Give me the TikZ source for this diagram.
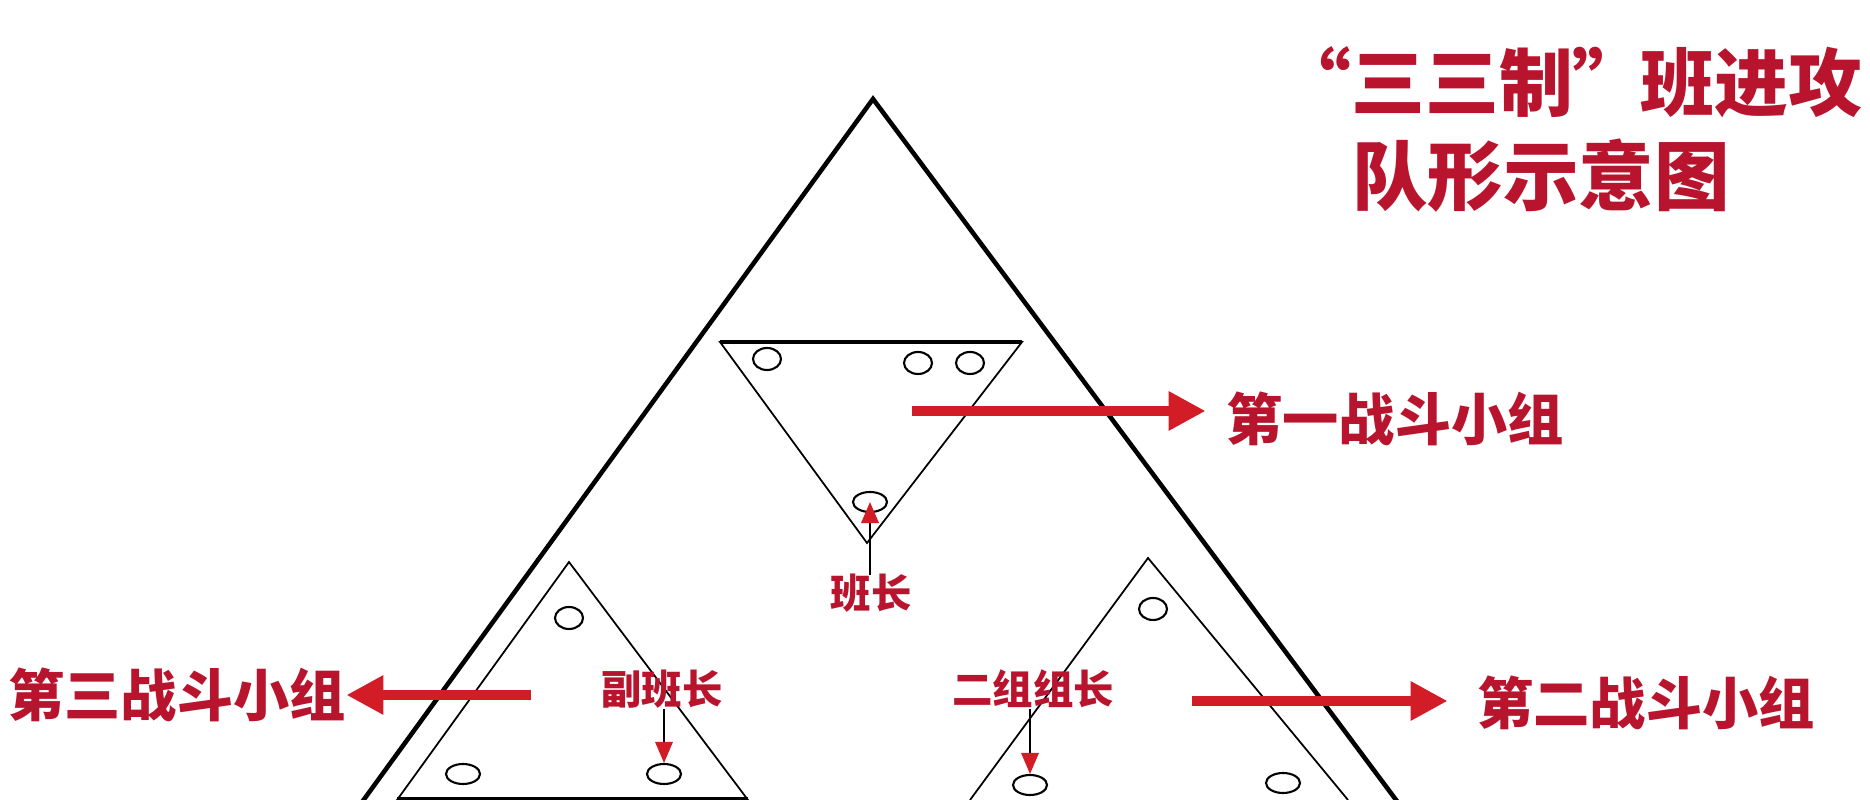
\documentclass[tikz,border=0pt]{standalone}
\usepackage{fontspec}
\newfontfamily\cjk{Noto Sans CJK SC}
\usetikzlibrary{arrows.meta,positioning,shapes.geometric}

\definecolor{labelred}{RGB}{185,20,45}
\definecolor{arrowred}{RGB}{210,28,38}

\tikzset{
    outer/.style={line width=1.3pt, line join=miter},
    group/.style={line width=0.5pt},
    soldier/.style={draw, ellipse, line width=0.6pt, inner sep=0pt,
        minimum width=2.8mm, minimum height=2.2mm},
    leader/.style={soldier, minimum width=3.4mm, minimum height=2mm},
    title/.style={text=labelred, inner sep=0pt, font=\cjk\bfseries\fontsize{21.5}{21.5}\selectfont},
    grouplabel/.style={text=labelred, inner sep=0pt, font=\cjk\bfseries\fontsize{16}{16}\selectfont},
    rolelabel/.style={text=labelred, inner sep=0pt, font=\cjk\bfseries\fontsize{11.5}{11.5}\selectfont},
    bigarrow/.style={draw=arrowred, line width=2.6pt, -{Triangle[length=10.5pt,width=10.5pt]}},
    pointer/.style={line width=0.5pt, -{Triangle[length=6pt,width=5pt,color=arrowred]}},
}

\begin{document}
\begin{tikzpicture}[x=0.1mm, y=-0.1mm]
    \useasboundingbox (0,0) rectangle (1870,800);
    \clip (0,0) rectangle (1870,800);

    % title
    \node[title, anchor=west, font=\cjk\bfseries\fontsize{21}{21}\selectfont] (title1)
        at (1277,82) {“三三制”\hspace{-0.08em}班进攻};
    \node[title] (title2) at (1541,176) {队形示意图};

    % the whole squad
    \draw[outer] (349,820) -- (873,99) -- (1411,820);

    % first group (top)
    \draw[group] (720,342) -- (1022,342) -- (867,543) -- cycle;
    \draw[line width=0.9pt] (720,342) -- (1022,342);
    \node[soldier] (t1) at (767,359) {};
    \node[soldier] (t2) at (918,363) {};
    \node[soldier] (t3) at (970,363) {};
    \node[leader] (tl) at (870,502) {};
    \node[rolelabel] (bz) at (871,593) {班长};
    \draw[pointer] (bz.north -| tl) ++(0,2) -- (tl.center);

    % third group (lower left)
    \draw[group] (569,562) -- (397,800) -- (748,800) -- cycle;
    \draw[group] (397,798) -- (748,798);
    \node[soldier] (l1) at (569,618) {};
    \node[leader] (l2) at (463,774) {};
    \node[leader] (ll) at (664,774) {};
    \node[rolelabel] (fbz) at (662,689) {副班长};
    \draw[pointer] (fbz.south -| ll) -- (ll.north);

    % second group (lower right)
    \draw[group] (970,800) -- (1148,558) -- (1348,800);
    \node[soldier] (r1) at (1153,609) {};
    \node[leader] (rl) at (1030,785) {};
    \node[leader] (r3) at (1283,783) {};
    \node[rolelabel] (ezz) at (1033,689) {二组组长};
    \draw[pointer] (ezz.south -| rl) -- (rl.north);

    % group names
    \node[grouplabel] (g1) at (1395,419) {第一战斗小组};
    \node[grouplabel] (g2) at (1646,703) {第二战斗小组};
    \node[grouplabel] (g3) at (177,695) {第三战斗小组};
    \coordinate (s1) at (912,411);
    \coordinate (s2) at (1192,701);
    \coordinate (s3) at (531,695);
    \draw[bigarrow, shorten >=2mm] (s1) -- (g1.west |- s1);
    \draw[bigarrow, shorten >=2.9mm] (s2) -- (g2.west |- s2);
    \draw[bigarrow] (s3) -- (g3.east |- s3);
\end{tikzpicture}
\end{document}
